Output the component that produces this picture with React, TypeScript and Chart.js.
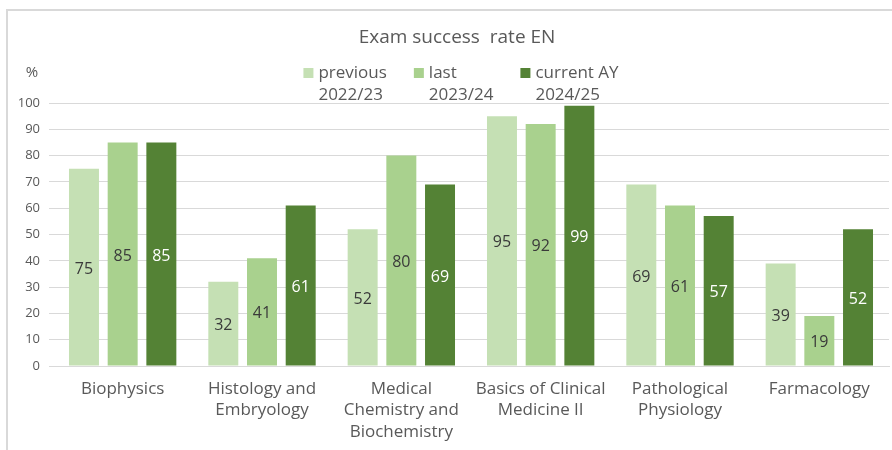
import React, { useEffect, useRef } from "react";
import { Chart, registerables } from "chart.js";

Chart.register(...registerables);

const title = "Exam success  rate EN";
const yUnit = "%";
const categories: string[][] = [
  ["Biophysics"],
  ["Histology and", "Embryology"],
  ["Medical", "Chemistry and", "Biochemistry"],
  ["Basics of Clinical", "Medicine II"],
  ["Pathological", "Physiology"],
  ["Farmacology"],
];
const previousYear = [75, 32, 52, 95, 69, 39];
const lastYear = [85, 41, 80, 92, 61, 19];
const currentYear = [85, 61, 69, 99, 57, 52];
const seriesLabels: string[][] = [
  ["previous", "2022/23"],
  ["last", "2023/24"],
  ["current AY", "2024/25"],
];
const seriesColors = ["#c5e0b4", "#a9d18e", "#548235"];
const valueLabelColors = ["#3a3a3a", "#3a3a3a", "#ffffff"];
const yMin = 0;
const yMax = 100;
const yStep = 10;

const FONT = "'Open Sans', 'Noto Sans', sans-serif";
const TEXT = "#595959";

const decorPlugin = {
  id: "decor",
  beforeDraw(chart: any) {
    const ctx = chart.ctx;
    ctx.save();
    ctx.fillStyle = "#ffffff";
    ctx.fillRect(0, 0, chart.width, chart.height);
    ctx.strokeStyle = "#d9d9d9";
    ctx.lineWidth = 2;
    ctx.beginPath();
    ctx.moveTo(7, chart.height);
    ctx.lineTo(7, 10);
    ctx.lineTo(chart.width, 10);
    ctx.stroke();
    ctx.restore();
  },
  afterDraw(chart: any) {
    const ctx = chart.ctx;
    ctx.save();
    // title
    ctx.fillStyle = TEXT;
    ctx.font = `19px ${FONT}`;
    ctx.textAlign = "center";
    ctx.textBaseline = "middle";
    ctx.fillText(title, 457, 38);
    // unit
    ctx.font = `15px ${FONT}`;
    ctx.fillText(yUnit, 32, 73);
    // legend
    ctx.font = `17px ${FONT}`;
    const box = 10;
    const gapBox = 5;
    const gapItem = 27;
    const widths = seriesLabels.map((lines) =>
      Math.max(...lines.map((l) => ctx.measureText(l).width))
    );
    const total =
      widths.reduce((a, w) => a + box + gapBox + w, 0) +
      gapItem * (seriesLabels.length - 1);
    let x = 461 - total / 2;
    ctx.textAlign = "left";
    seriesLabels.forEach((lines, i) => {
      ctx.fillStyle = seriesColors[i];
      ctx.fillRect(x, 73 - box / 2, box, box);
      ctx.fillStyle = TEXT;
      lines.forEach((l, j) => ctx.fillText(l, x + box + gapBox, 73 + j * 22));
      x += box + gapBox + widths[i] + gapItem;
    });
    ctx.restore();
  },
  afterDatasetsDraw(chart: any) {
    const ctx = chart.ctx;
    ctx.save();
    ctx.font = `16px ${FONT}`;
    ctx.textAlign = "center";
    ctx.textBaseline = "middle";
    chart.data.datasets.forEach((ds: any, i: number) => {
      const meta = chart.getDatasetMeta(i);
      ctx.fillStyle = valueLabelColors[i];
      meta.data.forEach((el: any, j: number) => {
        const v = ds.data[j];
        ctx.fillText(String(v), el.x, (el.y + el.base) / 2 + 2);
      });
    });
    ctx.restore();
  },
};

export default function App() {
  const ref = useRef<HTMLCanvasElement | null>(null);
  useEffect(() => {
    if (!ref.current) return;
    const series = [previousYear, lastYear, currentYear];
    const chart = new Chart(ref.current, {
      type: "bar",
      data: {
        labels: categories,
        datasets: series.map((data, i) => ({
          label: seriesLabels[i].join(" "),
          data,
          backgroundColor: seriesColors[i],
          categoryPercentage: 0.833,
          barPercentage: 0.775,
        })),
      },
      options: {
        responsive: false,
        animation: false,
        devicePixelRatio: 1,
        layout: { padding: { top: 103, right: 3, left: 0, bottom: 0 } },
        plugins: {
          legend: { display: false },
          title: { display: false },
          tooltip: { enabled: false },
        },
        scales: {
          x: {
            grid: { display: false, drawTicks: false },
            border: { display: true, color: "#d9d9d9" },
            ticks: {
              color: TEXT,
              font: { family: FONT, size: 17, lineHeight: 1.27 },
              padding: 12,
              maxRotation: 0,
              autoSkip: false,
            },
            afterFit: (s: any) => {
              s.height = 84;
            },
          },
          y: {
            min: yMin,
            max: yMax,
            ticks: {
              stepSize: yStep,
              color: TEXT,
              font: { family: FONT, size: 13 },
              padding: 9,
            },
            grid: { color: "#d9d9d9", tickLength: 4 },
            border: { display: false },
            afterFit: (s: any) => {
              s.width = 53;
            },
          },
        },
      } as any,
      plugins: [decorPlugin],
    });
    return () => chart.destroy();
  }, []);
  return (
    <div style={{ position: "fixed", left: 0, top: 0, width: 892, height: 450, background: "#fff" }}>
      <canvas ref={ref} width={892} height={450} style={{ width: 892, height: 450, display: "block" }} />
    </div>
  );
}
